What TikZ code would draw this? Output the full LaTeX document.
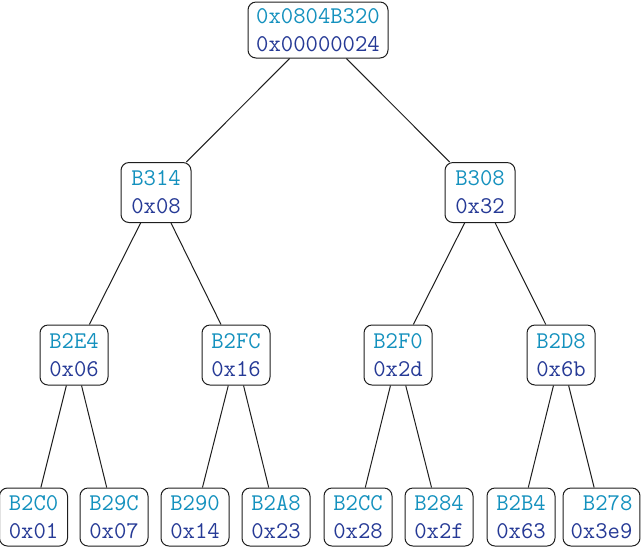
\documentclass[tikz,border=0pt]{standalone}
\usepackage{xcolor}
\definecolor{addr}{RGB}{20,145,190}
\definecolor{val}{RGB}{38,58,150}
\definecolor{edge}{RGB}{30,30,30}
\begin{document}
\begin{tikzpicture}[x=0.5pt,y=-0.5pt,
  box/.style={draw=edge,line width=0.5pt,rounded corners=4pt,fill=white,
    align=right,font=\ttfamily\fontsize{12}{14}\selectfont,
    inner xsep=3.8pt,inner ysep=0pt,minimum width=34pt,minimum height=30pt},
  topbox/.style={box,minimum width=70pt,minimum height=28pt},
  link/.style={draw=edge,line width=0.5pt}]
\useasboundingbox (0,0) rectangle (642,548);
\newcommand{\cell}[2]{\textcolor{addr}{#1}\\\textcolor{val}{#2}}
\node[topbox] (r) at (318,30) {\cell{0x0804B320}{0x00000024}};
\node[box,minimum width=35pt] (a) at (156,192.5) {\cell{B314}{0x08}};
\node[box,minimum width=35pt] (b) at (480,192.5) {\cell{B308}{0x32}};
\node[box] (aa) at (74,355) {\cell{B2E4}{0x06}};
\node[box] (ab) at (236,355) {\cell{B2FC}{0x16}};
\node[box] (ba) at (398,355) {\cell{B2F0}{0x2d}};
\node[box] (bb) at (561,355) {\cell{B2D8}{0x6b}};
\node[box,minimum height=29pt] (aaa) at (33.5,517) {\cell{B2C0}{0x01}};
\node[box,minimum height=29pt] (aab) at (114,517) {\cell{B29C}{0x07}};
\node[box,minimum height=29pt] (aba) at (195,517) {\cell{B290}{0x14}};
\node[box,minimum height=29pt] (abb) at (276,517) {\cell{B2A8}{0x23}};
\node[box,minimum height=29pt] (baa) at (358,517) {\cell{B2CC}{0x28}};
\node[box,minimum height=29pt] (bab) at (439,517) {\cell{B284}{0x2f}};
\node[box,minimum height=29pt] (bba) at (521,517) {\cell{B2B4}{0x63}};
\node[box,minimum height=29pt] (bbb) at (601.5,517) {\cell{B278}{0x3e9}};
\foreach \p/\c in {r/a,r/b,a/aa,a/ab,b/ba,b/bb,aa/aaa,aa/aab,ab/aba,ab/abb,ba/baa,ba/bab,bb/bba,bb/bbb}
  \draw[link] (\p) -- (\c);
\end{tikzpicture}
\end{document}
